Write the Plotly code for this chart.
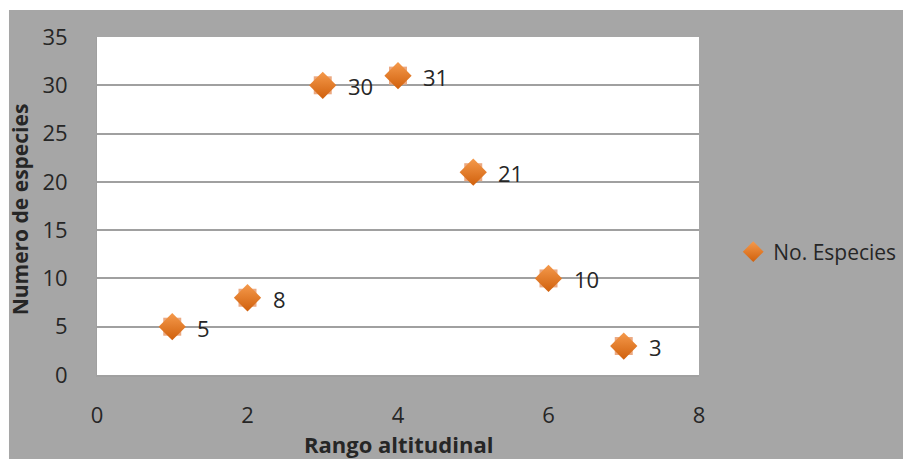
import plotly.graph_objects as go

# Species count per altitudinal range
rango = [1, 2, 3, 4, 5, 6, 7]
especies = [5, 8, 30, 31, 21, 10, 3]
serie = "No. Especies"

x_ticks = [0, 2, 4, 6, 8]
y_ticks = [0, 5, 10, 15, 20, 25, 30, 35]

FONT = "Open Sans"
TXT = "#262626"
GRID = "#a0a0a0"
BG = "#a6a6a6"

fig = go.Figure()

# light bevel square peeking behind each diamond
fig.add_trace(go.Scatter(
    x=rango, y=especies, mode="markers", showlegend=False, hoverinfo="skip",
    marker=dict(symbol="square", size=18, color="#eba982",
                line=dict(width=0)),
))

# main diamond markers
fig.add_trace(go.Scatter(
    x=rango, y=especies, mode="markers", name=serie,
    marker=dict(symbol="diamond", size=21, color="#f59a4c",
                gradient=dict(type="vertical", color="#d0600c"),
                line=dict(width=0)),
))

# data labels to the right of each point
for xv, yv in zip(rango, especies):
    fig.add_annotation(x=xv, y=yv, text=str(yv), showarrow=False,
                       xanchor="left", yanchor="middle", xshift=23, yshift=-1,
                       font=dict(family=FONT, size=22, color=TXT))

# axis titles
fig.add_annotation(xref="paper", yref="paper", x=0.5, y=-0.205,
                   text="<b>Rango altitudinal</b>", showarrow=False,
                   xanchor="center", yanchor="middle",
                   font=dict(family=FONT, size=22, color=TXT))
fig.add_annotation(xref="paper", yref="paper", x=-0.128, y=0.49,
                   text="<b>Numero de especies</b>", showarrow=False,
                   textangle=-90, xanchor="center", yanchor="middle",
                   font=dict(family=FONT, size=21, color=TXT))

# white page edges around the gray chart area
fig.add_shape(type="rect", xref="paper", yref="paper", layer="below",
              x0=-0.3, x1=1.5, y0=1.0799, y1=1.3,
              fillcolor="white", line=dict(width=0))
fig.add_shape(type="rect", xref="paper", yref="paper", layer="below",
              x0=-0.3, x1=-0.1462, y0=-0.4, y1=1.3,
              fillcolor="white", line=dict(width=0))

fig.update_xaxes(range=[0, 8], tickvals=x_ticks, showgrid=False,
                 zeroline=False, showline=True, linecolor=GRID, linewidth=1.5,
                 ticks="", ticklabelstandoff=20,
                 tickfont=dict(family=FONT, size=22, color=TXT))
fig.update_yaxes(range=[0, 35], tickvals=y_ticks, showgrid=True,
                 gridcolor=GRID, gridwidth=1.5, zeroline=False,
                 showline=True, linecolor=GRID, linewidth=1,
                 ticks="", ticklabelstandoff=24,
                 tickfont=dict(family=FONT, size=22, color=TXT))

fig.update_layout(
    width=903, height=459,
    margin=dict(l=97, r=204, t=37, b=84, autoexpand=False),
    paper_bgcolor=BG, plot_bgcolor="white",
    showlegend=True,
    legend=dict(xref="container", yref="container",
                x=0.812, y=0.451, xanchor="left", yanchor="middle",
                bgcolor="rgba(0,0,0,0)",
                font=dict(family=FONT, size=21, color=TXT),
                itemwidth=30),
)

fig.write_html("out.html")
